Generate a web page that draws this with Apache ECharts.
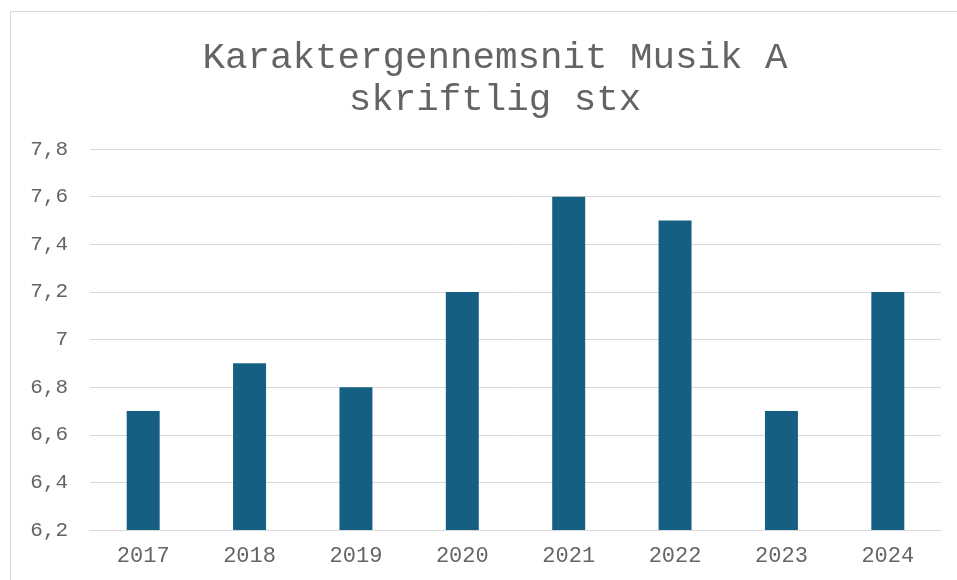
<!DOCTYPE html>
<html>
<head>
<meta charset="utf-8">
<script src="https://cdn.jsdelivr.net/npm/echarts@6/dist/echarts.min.js"></script>
<style>
  html, body { margin: 0; padding: 0; background: #fff; }
  #chart { width: 957px; height: 580px; }
</style>
</head>
<body>
<div id="chart"></div>
<script>
const years = ['2017', '2018', '2019', '2020', '2021', '2022', '2023', '2024'];
const averages = [6.7, 6.9, 6.8, 7.2, 7.6, 7.5, 6.7, 7.2];

const mono = '"Liberation Mono", "Courier New", monospace';
const textGray = '#646464';

const myChart = echarts.init(document.getElementById('chart'));

const option = {
  backgroundColor: '#fff',
  animation: false,
  title: {
    text: 'Karaktergennemsnit Musik A\nskriftlig stx',
    left: 490,
    top: 32,
    textAlign: 'center',
    textStyle: {
      fontFamily: mono,
      fontSize: 37.5,
      fontWeight: 'normal',
      color: textGray,
      lineHeight: 42
    }
  },
  graphic: [
    {
      type: 'rect',
      shape: { x: 10.5, y: 11.5, width: 1000, height: 700 },
      style: { fill: 'none', stroke: '#d9d9d9', lineWidth: 1 },
      silent: true
    }
  ],
  grid: {
    left: 90,
    right: 16,
    top: 149,
    bottom: 50
  },
  xAxis: {
    type: 'category',
    data: years,
    axisLine: { lineStyle: { color: '#d9d9d9', width: 1 } },
    axisTick: { show: false },
    axisLabel: {
      fontFamily: mono,
      fontSize: 22,
      color: textGray,
      margin: 15
    }
  },
  yAxis: {
    type: 'value',
    min: 6.2,
    max: 7.8,
    interval: 0.2,
    axisLine: { show: false },
    axisTick: { show: false },
    splitLine: { lineStyle: { color: '#d9d9d9', width: 1 } },
    axisLabel: {
      fontFamily: mono,
      fontSize: 21,
      color: textGray,
      margin: 22,
      formatter: (v) => {
        const r = Math.round(v * 10) / 10;
        return String(r).replace('.', ',');
      }
    }
  },
  series: [
    {
      type: 'bar',
      data: averages,
      barWidth: '31%',
      itemStyle: { color: '#156082' }
    }
  ]
};

myChart.setOption(option);
</script>
</body>
</html>
